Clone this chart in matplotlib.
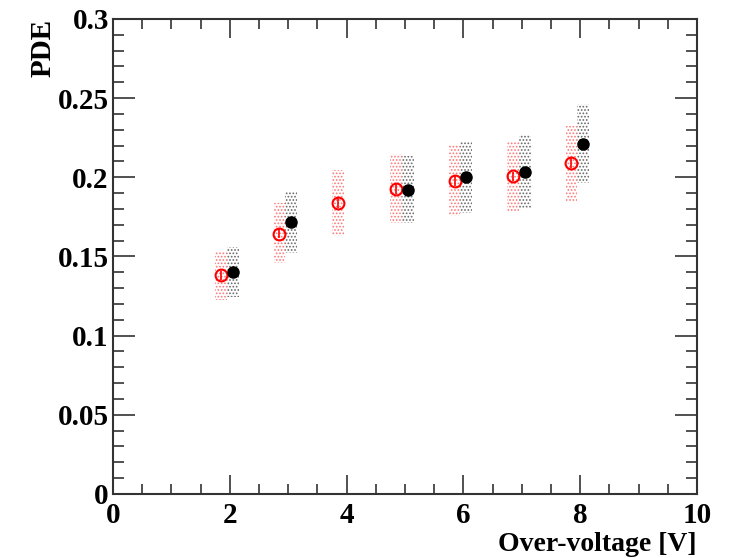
import matplotlib.pyplot as plt
import numpy as np

plt.rcParams['font.family'] = ['Liberation Serif', 'DejaVu Serif']
plt.rcParams['font.weight'] = 'bold'
plt.rcParams['hatch.linewidth'] = 0.8

# black (filled) series
x_black = [2.05, 3.05, 5.05, 6.05, 7.05, 8.05]
y_black = [0.1405, 0.1718, 0.1922, 0.2003, 0.2034, 0.2208]
err_black = [0.002, 0.002, 0.002, 0.0025, 0.0025, 0.0035]
sys_lo_black = [0.1245, 0.1522, 0.1712, 0.1775, 0.1807, 0.1965]
sys_hi_black = [0.1562, 0.1908, 0.2135, 0.2230, 0.2268, 0.2460]

# red (open) series
x_red = [1.85, 2.85, 3.85, 4.85, 5.85, 6.85, 7.85]
y_red = [0.1380, 0.1645, 0.1838, 0.1927, 0.1977, 0.2006, 0.2090]
err_red = [0.003, 0.003, 0.003, 0.003, 0.003, 0.003, 0.003]
sys_lo_red = [0.1226, 0.1459, 0.1630, 0.1712, 0.1756, 0.1780, 0.1850]
sys_hi_red = [0.1535, 0.1838, 0.2047, 0.2150, 0.2205, 0.2230, 0.2325]

band_half = 0.1

fig = plt.figure(figsize=(7.37, 5.58), dpi=100)
ax = fig.add_axes([0.1533, 0.1147, 0.7924, 0.8513])

# systematic bands, dotted fill like ROOT
for xs, lo, hi, c in [(x_red, sys_lo_red, sys_hi_red, '#ff7777'),
                      (x_black, sys_lo_black, sys_hi_black, '#666666')]:
    for x, l, h in zip(xs, lo, hi):
        ax.fill_between([x - band_half, x + band_half], [l, l], [h, h],
                        facecolor='none', edgecolor=c, hatch='.....',
                        linewidth=0, zorder=1)

ax.errorbar(x_red, y_red, yerr=err_red, fmt='o', mfc='none', mec='red',
            ecolor='red', ms=8.5, mew=1.5, elinewidth=1.2, capsize=0, zorder=3)
ax.errorbar(x_black, y_black, yerr=err_black, fmt='o', color='black',
            ms=8, elinewidth=1.5, capsize=0, zorder=3)

ax.set_xlim(0, 10)
ax.set_ylim(0, 0.3)
ax.set_xticks(np.arange(0, 10.1, 2))
ax.set_xticks(np.arange(0, 10.1, 0.5), minor=True)
ax.set_yticks(np.arange(0, 0.301, 0.05))
ax.set_yticks(np.arange(0, 0.301, 0.01), minor=True)
ax.set_xticklabels(['0', '2', '4', '6', '8', '10'])
ax.set_yticklabels(['0', '0.05', '0.1', '0.15', '0.2', '0.25', '0.3'])

ax.tick_params(which='both', direction='in', top=True, right=True,
               width=1.2, color='#333333', labelsize=21)
ax.tick_params(axis='x', which='major', length=14, pad=6)
ax.tick_params(axis='x', which='minor', length=7)
ax.tick_params(axis='y', which='major', length=16, pad=3)
ax.tick_params(axis='y', which='minor', length=8)
for s in ax.spines.values():
    s.set_linewidth(1.5)
    s.set_color('#333333')

ax.set_xlabel('Over-voltage [V]', fontsize=20, fontweight='bold')
ax.xaxis.set_label_coords(1.0, -0.132)
ax.xaxis.label.set_horizontalalignment('right')
ax.xaxis.label.set_verticalalignment('bottom')
ax.set_ylabel('PDE', fontsize=21, fontweight='bold')
ax.yaxis.set_label_coords(-0.143, 1.0)
ax.yaxis.label.set_verticalalignment('top')
ax.yaxis.label.set_horizontalalignment('right')

fig.savefig('out.png', dpi=100)
